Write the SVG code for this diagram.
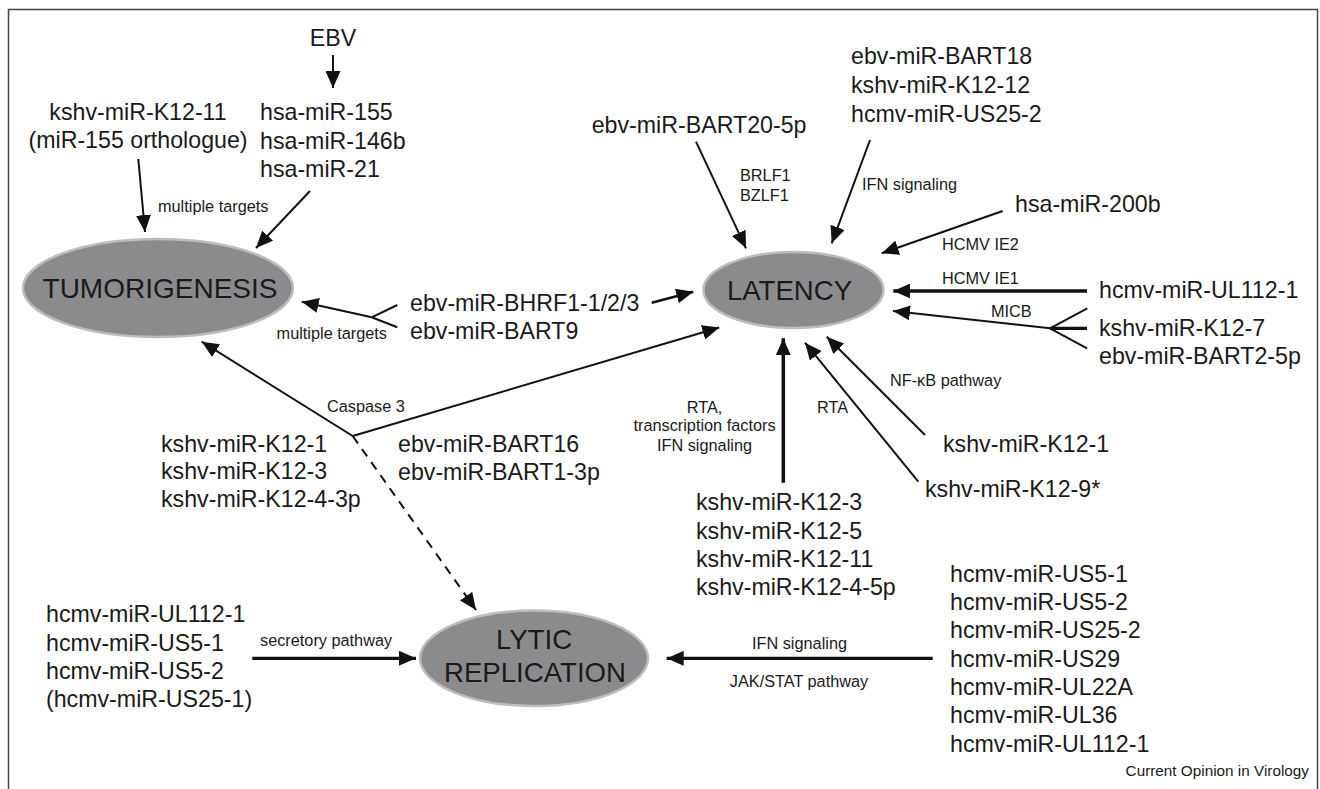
<svg xmlns="http://www.w3.org/2000/svg" width="1320" height="789" viewBox="0 0 1320 789">
<style>
  text { font-family: "Liberation Sans", Arial, Helvetica, sans-serif; fill: #1a1a1a; }
  .m { font-size: 23.2px; }
  .s { font-size: 16.3px; }
  .big { font-size: 27.6px; }
  .c { text-anchor: middle; }
  .e { text-anchor: end; }
  .ell { fill: #8b8b8d; stroke: #bdbdbd; stroke-width: 2.5; }
  .ln { stroke: #111; stroke-width: 2; fill: none; }
  .th { stroke-width: 3.3; }
  .arr { marker-end: url(#ah); }
  .dash { stroke-dasharray: 9 7; }
</style>
<defs>
  <marker id="ah" markerUnits="userSpaceOnUse" viewBox="0 0 17 15" markerWidth="17" markerHeight="15" refX="17" refY="7.5" orient="auto">
    <path d="M0,0 L17,7.5 L0,15 Z" fill="#111"/>
  </marker>
</defs>
<rect width="1320" height="789" fill="#fff"/>
<path d="M8.5,789 V9.5 H1317.5 V789" fill="none" stroke="#444" stroke-width="1.5"/>

<g id="connectors">
  <line class="ln arr" x1="333" y1="55" x2="333" y2="88"/>
  <line class="ln arr" x1="138.3" y1="159" x2="145" y2="232"/>
  <line class="ln arr" x1="310" y1="191" x2="256" y2="248"/>
  <line class="ln" x1="397.3" y1="305" x2="371.7" y2="317.3"/>
  <line class="ln" x1="397.3" y1="327.3" x2="371.7" y2="317.3"/>
  <line class="ln arr" x1="371.7" y1="317.3" x2="301.7" y2="301.7"/>
  <line class="ln arr" style="stroke-width:2.5" x1="651.7" y1="302.7" x2="693.3" y2="291.7"/>
  <line class="ln arr" x1="696" y1="141.7" x2="746" y2="248.3"/>
  <line class="ln arr" x1="870" y1="140" x2="831.7" y2="243.3"/>
  <line class="ln arr" x1="1002.7" y1="211" x2="881.7" y2="253.3"/>
  <line class="ln th arr" x1="1087" y1="291" x2="893.3" y2="291"/>
  <line class="ln" x1="1087.3" y1="308.3" x2="1050" y2="328.3"/>
  <line class="ln th" x1="1087" y1="328.3" x2="1050" y2="328.3"/>
  <line class="ln" x1="1087" y1="348.3" x2="1050" y2="328.3"/>
  <line class="ln arr" x1="1050" y1="328.3" x2="893" y2="311"/>
  <line class="ln arr" x1="925" y1="435" x2="826.7" y2="336.7"/>
  <line class="ln arr" x1="918.3" y1="481.7" x2="805" y2="342.7"/>
  <line class="ln arr" style="stroke-width:3.5" x1="783.3" y1="482.7" x2="783.3" y2="338.3"/>
  <line class="ln arr" x1="352.7" y1="436" x2="201.7" y2="341.7"/>
  <line class="ln arr" x1="352.7" y1="436" x2="719.3" y2="327.5"/>
  <line class="ln dash" x1="352.7" y1="436" x2="469" y2="600"/>
  <line class="ln arr" x1="466" y1="596" x2="476" y2="610"/>
  <line class="ln th arr" x1="252.3" y1="658.3" x2="416" y2="658.3"/>
  <line class="ln th arr" x1="932.7" y1="658.3" x2="666.7" y2="658.3"/>
</g>

<g id="edge-labels">
  <text class="s" x="158" y="212">multiple targets</text>
  <text class="s e" x="387" y="338.5">multiple targets</text>
  <text class="s" x="740" y="181">BRLF1</text>
  <text class="s" x="740" y="201">BZLF1</text>
  <text class="s" x="862" y="190">IFN signaling</text>
  <text class="s" x="942" y="249.5">HCMV IE2</text>
  <text class="s" x="942" y="284">HCMV IE1</text>
  <text class="s" x="991" y="317">MICB</text>
  <text class="s" x="890" y="386">NF-κB pathway</text>
  <text class="s" x="817" y="413">RTA</text>
  <text class="s c" x="704.5" y="412.7">RTA,</text>
  <text class="s c" x="704.5" y="431">transcription factors</text>
  <text class="s c" x="704.5" y="451">IFN signaling</text>
  <text class="s" x="327" y="412">Caspase 3</text>
  <text class="s" x="260" y="645.7">secretory pathway</text>
  <text class="s c" x="799.5" y="649.3">IFN signaling</text>
  <text class="s c" x="799" y="687">JAK/STAT pathway</text>
</g>

<g id="node-tumorigenesis">
  <ellipse class="ell" cx="158" cy="288" rx="135" ry="49"/>
  <text class="c" style="font-size:28px" x="160" y="298">TUMORIGENESIS</text>
</g>
<g id="node-latency">
  <ellipse class="ell" cx="793.5" cy="290" rx="90" ry="38"/>
  <text class="big c" x="789.5" y="300">LATENCY</text>
</g>
<g id="node-lytic">
  <ellipse class="ell" cx="534" cy="658.3" rx="114" ry="47.7"/>
  <text class="big c" x="534" y="649.3">LYTIC</text>
  <text class="big c" x="535" y="681.7">REPLICATION</text>
</g>

<g id="node-ebv">
  <text class="m c" x="333" y="46">EBV</text>
</g>
<g id="node-kshv-k12-11">
  <text class="m c" x="138" y="120">kshv-miR-K12-11</text>
  <text class="m c" x="138" y="148">(miR-155 orthologue)</text>
</g>
<g id="node-hsa">
  <text class="m" x="260" y="120">hsa-miR-155</text>
  <text class="m" x="260" y="148.5">hsa-miR-146b</text>
  <text class="m" x="260" y="177">hsa-miR-21</text>
</g>
<g id="node-bart20">
  <text class="m" x="591.7" y="133">ebv-miR-BART20-5p</text>
</g>
<g id="node-bart18">
  <text class="m" x="851" y="64">ebv-miR-BART18</text>
  <text class="m" x="851" y="93">kshv-miR-K12-12</text>
  <text class="m" x="851" y="122">hcmv-miR-US25-2</text>
</g>
<g id="node-hsa-200b">
  <text class="m" x="1015" y="212">hsa-miR-200b</text>
</g>
<g id="node-ul112-top">
  <text class="m" x="1099" y="298">hcmv-miR-UL112-1</text>
</g>
<g id="node-k12-7">
  <text class="m" x="1099" y="336">kshv-miR-K12-7</text>
  <text class="m" x="1099" y="364">ebv-miR-BART2-5p</text>
</g>
<g id="node-bhrf1">
  <text class="m" x="410" y="310.7">ebv-miR-BHRF1-1/2/3</text>
  <text class="m" x="410" y="339">ebv-miR-BART9</text>
</g>
<g id="node-k12-1-right">
  <text class="m" x="943" y="452">kshv-miR-K12-1</text>
</g>
<g id="node-k12-9">
  <text class="m" x="925" y="497">kshv-miR-K12-9*</text>
</g>
<g id="node-k12-left">
  <text class="m" x="161" y="451.5">kshv-miR-K12-1</text>
  <text class="m" x="161" y="479">kshv-miR-K12-3</text>
  <text class="m" x="161" y="506.5">kshv-miR-K12-4-3p</text>
</g>
<g id="node-bart16">
  <text class="m" x="398" y="452">ebv-miR-BART16</text>
  <text class="m" x="398" y="480">ebv-miR-BART1-3p</text>
</g>
<g id="node-k12-center">
  <text class="m" x="696" y="510">kshv-miR-K12-3</text>
  <text class="m" x="696" y="538.5">kshv-miR-K12-5</text>
  <text class="m" x="696" y="567">kshv-miR-K12-11</text>
  <text class="m" x="696" y="595">kshv-miR-K12-4-5p</text>
</g>
<g id="node-hcmv-left">
  <text class="m" x="46" y="622">hcmv-miR-UL112-1</text>
  <text class="m" x="46" y="650.5">hcmv-miR-US5-1</text>
  <text class="m" x="46" y="679">hcmv-miR-US5-2</text>
  <text class="m" x="46" y="707">(hcmv-miR-US25-1)</text>
</g>
<g id="node-hcmv-right">
  <text class="m" x="950" y="581.7">hcmv-miR-US5-1</text>
  <text class="m" x="950" y="610">hcmv-miR-US5-2</text>
  <text class="m" x="950" y="638.3">hcmv-miR-US25-2</text>
  <text class="m" x="950" y="666.7">hcmv-miR-US29</text>
  <text class="m" x="950" y="695">hcmv-miR-UL22A</text>
  <text class="m" x="950" y="723.3">hcmv-miR-UL36</text>
  <text class="m" x="950" y="751.7">hcmv-miR-UL112-1</text>
</g>
<g id="credit">
  <text class="e" style="font-size:15.3px" x="1309" y="776">Current Opinion in Virology</text>
</g>
</svg>
